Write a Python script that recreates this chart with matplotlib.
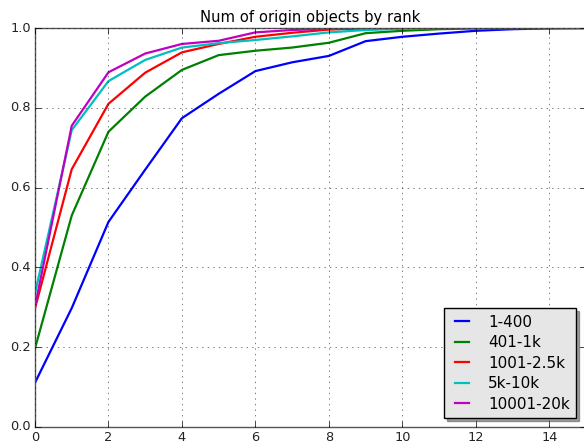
import matplotlib
matplotlib.use('Agg')
import matplotlib.pyplot as plt

plt.style.use('classic')

# ================================== data ====================================

ranks = list(range(16))

labels = ['1-400', '401-1k', '1001-2.5k', '5k-10k', '10001-20k']
colors = ['b', 'g', 'r', 'c', 'm']

share_1_400 = [0.111, 0.298, 0.514, 0.645, 0.774, 0.835, 0.892, 0.914,
               0.930, 0.967, 0.978, 0.986, 0.993, 0.997, 0.999, 1.0]
share_401_1k = [0.197, 0.530, 0.740, 0.828, 0.895, 0.932, 0.943, 0.951,
                0.963, 0.987, 0.993, 0.997, 0.999, 1.0, 1.0, 1.0]
share_1001_2500 = [0.297, 0.646, 0.810, 0.888, 0.939, 0.960, 0.978, 0.988,
                   0.996, 0.999, 1.0, 1.0, 1.0, 1.0, 1.0, 1.0]
share_5k_10k = [0.335, 0.744, 0.867, 0.920, 0.951, 0.962, 0.970, 0.979,
                0.989, 0.995, 0.998, 1.0, 1.0, 1.0, 1.0, 1.0]
share_10k_20k = [0.302, 0.755, 0.889, 0.936, 0.960, 0.968, 0.989, 0.995,
                 0.998, 1.0, 1.0, 1.0, 1.0, 1.0, 1.0, 1.0]

series = [share_1_400, share_401_1k, share_1001_2500, share_5k_10k, share_10k_20k]


# ================================== plot ====================================

def main():
    fig = plt.figure(figsize=(5.84, 4.45), dpi=100, facecolor='white')
    # axes runs a little past the right edge of the figure, as in the original
    ax = fig.add_axes([35 / 584, 18 / 445, 551 / 584, 399 / 445])

    for values, label, color in zip(series, labels, colors):
        ax.plot(ranks, values, color=color, lw=1.6, label=label)

    ax.set_xlim(0, 15)
    ax.set_ylim(0, 1)
    ax.set_xticks(range(0, 15, 2))
    ax.set_yticks([0.0, 0.2, 0.4, 0.6, 0.8, 1.0])
    ax.tick_params(labelsize=9.3, length=4, pad=3, labelcolor='#222222')
    ax.grid(True, linestyle=':', color='k', lw=0.6, alpha=0.6)
    for spine in ax.spines.values():
        spine.set_color('#555555')

    ax.set_title('Num of origin objects by rank', fontsize=10.6, pad=4)

    leg = fig.legend(loc='lower right', bbox_to_anchor=(576 / 584, 27 / 445),
                     borderaxespad=0, fontsize=11, shadow=True, fancybox=False,
                     framealpha=1, handlelength=1.5, handletextpad=0.95,
                     borderpad=0.42, labelspacing=0.36)
    leg.get_frame().set_facecolor('#e6e6e6')
    leg.get_frame().set_edgecolor('k')

    fig.savefig('out.png', dpi=100, facecolor='white')


if __name__ == '__main__':
    main()
